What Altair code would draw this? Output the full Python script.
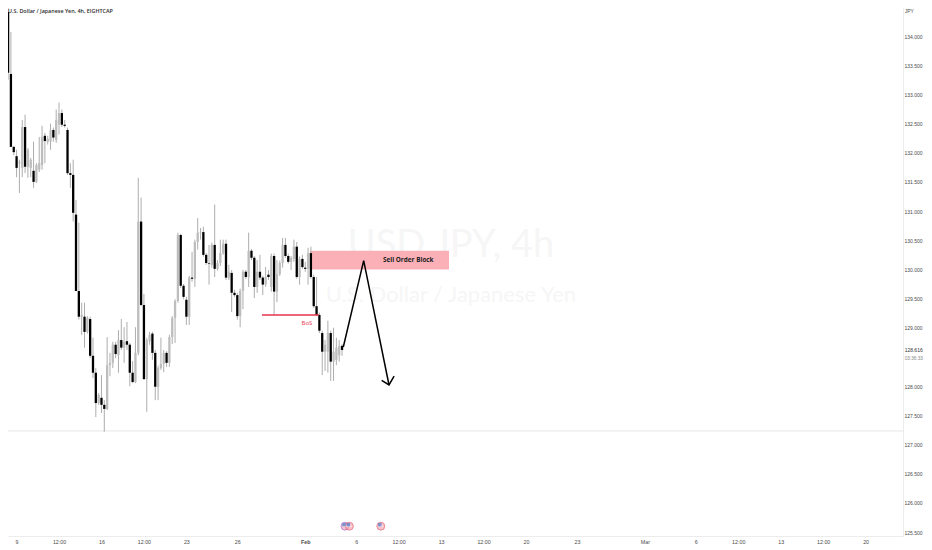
import json
import altair as alt
import pandas as pd

opens = [133.59,133.76,134.05,134.41,133.35,132.10,131.94,131.82,131.74,132.44,131.76,131.74,131.69,131.50,131.71,131.79,132.29,132.19,132.19,132.39,132.22,132.48,132.68,132.48,132.39,131.65,131.62,130.94,129.63,129.19,129.19,128.93,129.15,128.52,128.23,127.71,127.80,127.68,127.61,128.36,128.40,128.71,128.53,128.79,128.66,128.77,128.71,128.23,128.07,128.57,130.82,129.39,128.12,128.77,128.90,128.57,127.99,128.31,128.38,128.57,128.40,128.84,129.17,129.46,130.59,129.72,129.48,129.19,129.86,129.84,130.47,130.63,130.64,130.25,130.11,130.08,130.42,130.01,130.11,130.28,130.44,129.86,129.94,129.60,129.56,129.20,129.63,129.96,129.87,130.32,130.20,129.70,129.96,129.86,129.74,129.91,129.70,130.23,129.62,129.92,130.11,130.42,130.23,130.13,130.18,130.39,129.87,130.18,130.03,130.01,130.28,129.87,129.37,129.22,128.91,128.59,128.59,128.91,128.42,128.45,128.53,128.69]
highs = [134.10,134.36,134.57,134.62,134.07,132.11,132.05,131.88,132.56,132.65,132.08,131.91,132.19,131.82,132.27,132.46,132.34,132.29,132.50,132.43,132.74,132.86,132.74,132.56,132.43,131.82,131.88,131.19,130.80,129.43,129.43,129.20,129.19,128.83,128.31,127.88,128.19,127.76,128.84,128.57,128.76,128.76,128.96,129.15,129.01,129.10,128.74,128.43,129.01,131.57,131.23,129.58,128.83,128.93,128.93,128.62,128.35,128.83,128.62,128.60,128.88,129.20,129.49,130.63,130.61,129.75,129.53,129.89,130.30,130.51,130.88,130.71,130.73,130.28,130.42,130.46,131.11,130.16,130.51,130.51,130.51,130.08,129.99,129.65,129.60,129.67,129.99,129.99,130.63,130.35,130.23,130.16,130.25,129.89,130.04,129.99,130.27,130.27,130.16,130.15,130.54,130.54,130.27,130.23,130.51,130.47,130.22,130.25,130.13,130.37,130.39,129.91,129.87,129.26,128.95,128.79,129.12,128.95,129.00,128.83,128.79,128.72]
lows = [133.38,133.59,133.85,133.25,132.10,131.96,131.58,131.31,131.58,131.65,131.57,131.58,131.40,131.48,131.67,131.71,131.82,132.14,132.05,132.19,132.17,132.31,132.44,132.43,131.62,131.40,130.82,129.63,129.14,128.88,128.66,128.90,128.48,128.14,127.47,127.68,127.54,127.22,127.59,128.17,128.31,128.48,128.23,128.62,128.40,128.62,128.00,128.05,128.05,128.53,129.37,128.11,127.56,128.71,128.45,127.76,127.76,128.28,128.24,128.33,128.33,128.72,128.74,129.43,129.68,129.49,129.05,129.05,129.79,129.70,130.34,130.51,130.22,130.08,129.74,130.03,129.87,129.98,130.06,130.25,129.82,129.82,129.27,129.53,129.14,129.01,129.32,129.84,129.70,130.16,129.51,129.60,129.82,129.56,129.70,129.82,129.62,129.22,129.44,129.89,130.03,130.20,130.10,129.99,130.13,129.84,129.74,130.01,129.96,129.74,129.84,129.34,129.20,128.91,128.19,128.26,128.23,128.09,128.09,128.36,128.42,128.52]
closes = [133.93,134.14,134.41,133.37,132.10,132.01,131.74,131.84,132.44,131.76,132.05,131.88,131.50,131.79,131.82,132.27,132.20,132.24,132.39,132.26,132.56,132.68,132.48,132.46,131.65,131.62,130.97,129.63,129.19,129.22,128.93,129.17,128.52,128.23,127.71,127.85,127.68,127.61,128.36,128.40,128.71,128.55,128.79,128.66,128.76,128.71,128.23,128.07,128.57,130.82,129.39,128.12,128.79,128.88,128.57,127.99,128.31,128.38,128.57,128.40,128.84,129.17,129.46,130.59,129.72,129.53,129.19,129.86,129.84,130.47,130.63,130.64,130.25,130.11,130.10,130.42,130.01,130.11,130.28,130.44,129.86,129.96,129.60,129.56,129.20,129.63,129.96,129.87,130.32,130.20,129.70,129.96,129.86,129.74,129.87,129.87,130.23,129.62,129.92,130.11,130.42,130.23,130.13,130.20,130.39,129.87,130.18,130.04,130.01,130.28,129.87,129.37,129.22,128.95,128.59,128.71,128.91,128.42,128.59,128.66,128.69,128.62]

tick_bars = [6,21,36,51,66,84,108,126,141,156,171,186,204,228,246,261,276,291,306]
tick_text = ["9","12:00","16","12:00","23","26","Feb","6","12:00","13","12:00","20","23","Mar","6","12:00","13","12:00","20"]
price_ticks = [125.5,126,126.5,127,127.5,128,129,129.5,130,130.5,131,131.5,132,132.5,133,133.5,134]

last_price = 128.616
countdown = "03:36:33"
zone_bars, zone_prices = [109.7, 158.8], [130.0, 130.32]
bos_bars, bos_price = [92.7, 112.8], 129.22
arrow_bars, arrow_prices = [121.45, 128.65, 137.6], [128.67, 130.15, 128.02]
head_bars, head_prices = [135.0, 137.6, 139.4], [128.10, 128.02, 128.17]
event_bars = [122.05, 123.6, 134.7]
event_price = 125.6

xs = alt.Scale(domain=[2.968, 319.22], nice=False, zero=False)
ys = alt.Scale(domain=[125.432, 134.48], nice=False, zero=False)

df = pd.DataFrame({"i": range(len(opens)), "o": opens, "h": highs, "l": lows, "c": closes})
df["top"] = df[["o", "c"]].max(axis=1)
df["bot"] = df[["o", "c"]].min(axis=1)
df["up"] = df.c >= df.o

labels_map = json.dumps({str(b): t for b, t in zip(tick_bars, tick_text)})
feb_bar = tick_bars[tick_text.index("Feb")]

x_axis = alt.Axis(
    values=tick_bars, labelExpr=f"{labels_map}[datum.value]", grid=False, ticks=False,
    labelFontSize=5.3, labelColor="#4a4a4a", labelPadding=3, labelFont="Liberation Sans",
    domainColor="#ececec", labelOverlap=False,
    labelFontWeight={"expr": f"datum.value == {feb_bar} ? 'bold' : 'normal'"}, labelFlush=False)
y_axis = alt.Axis(
    orient="right", values=price_ticks, format=".3f", grid=False, ticks=False,
    labelFontSize=5, labelColor="#4a4a4a", labelPadding=1, labelFont="Liberation Sans",
    domainColor="#ececec", labelOverlap=False)


def X(f="i"):
    return alt.X(f"{f}:Q", scale=xs, axis=x_axis, title=None)


def Y(f="p"):
    return alt.Y(f"{f}:Q", scale=ys, axis=y_axis, title=None)


def label(text, bar, price, **mark):
    return alt.Chart(pd.DataFrame({"i": [bar], "p": [price], "t": [text]})).mark_text(**mark).encode(
        x=X(), y=Y(), text="t:N")


watermark1 = label("USD JPY, 4h", 159.5, 130.40, font="Lato", fontSize=38, color="#f6f6f6", align="center", baseline="middle")
watermark2 = label("U.S. Dollar / Japanese Yen", 159.5, 129.56, font="Lato", fontSize=22, color="#f6f6f6", align="center", baseline="middle")

session_line = alt.Chart(pd.DataFrame({"p": [127.232]})).mark_rule(color="#e6e6e6", strokeWidth=1).encode(y=Y())

zone = alt.Chart(pd.DataFrame({"a": [zone_bars[0]], "b": [zone_bars[1]], "p": [zone_prices[0]], "q": [zone_prices[1]]})).mark_rect(
    color="#fbb0b8").encode(x=X("a"), x2="b:Q", y=Y("p"), y2="q:Q")

wicks = alt.Chart(df).mark_rule(clip=True, strokeWidth=0.9, color="#a4a4a4").encode(x=X(), y=Y("l"), y2="h:Q")
bodies = alt.Chart(df).mark_rule(clip=True, strokeWidth=2.3).encode(
    x=X(), y=Y("bot"), y2="top:Q",
    color=alt.condition("datum.up", alt.value("#bdbdbd"), alt.value("#000000")),
)

bos = alt.Chart(pd.DataFrame({"a": [bos_bars[0]], "b": [bos_bars[1]], "p": [bos_price]})).mark_rule(
    color="#e8324e", strokeWidth=1.4).encode(x=X("a"), x2="b:Q", y=Y())
bos_text = label("BoS", 108.6, 129.09, font="Open Sans", fontSize=6, color="#e8324e", align="center", baseline="middle")

arrow = alt.Chart(pd.DataFrame({"i": arrow_bars, "p": arrow_prices, "n": range(3)})).mark_line(
    color="#000000", strokeWidth=1.5).encode(x=X(), y=Y(), order="n:Q")
head = alt.Chart(pd.DataFrame({"i": head_bars, "p": head_prices, "n": range(3)})).mark_line(
    color="#000000", strokeWidth=1.5).encode(x=X(), y=Y(), order="n:Q")
zone_text = label("Sell Order Block", 144.4, 130.16, font="Open Sans", fontSize=6.4, fontWeight="bold", color="#222222", align="center", baseline="middle")

events = pd.DataFrame({"i": event_bars, "p": [event_price] * 3, "ring": ["#a65cc4", "#e2566c", "#e2566c"]})
event_bg = alt.Chart(events).mark_point(shape="circle", filled=True, size=62, fill="#f8a9b3", strokeWidth=1).encode(
    x=X(), y=Y(), stroke=alt.Stroke("ring:N", scale=None))
event_stripe = alt.Chart(events).mark_point(shape="stroke", size=22, stroke="#ffffff", strokeWidth=1.2).encode(x=X(), y=Y())
event_blue = alt.Chart(events).mark_point(shape="square", filled=True, size=12, color="#4a7fd0", yOffset=-1.5, xOffset=-1).encode(x=X(), y=Y())

title = label("U.S. Dollar / Japanese Yen, 4h, EIGHTCAP", 3.0, 134.43, font="Open Sans", fontSize=5.4, fontWeight=600, color="#2a2a2a", align="left", baseline="middle")
unit = label("JPY", 319.8, 134.43, font="Liberation Sans", fontSize=5, color="#4a4a4a", align="left", baseline="middle")
last_lbl = label(f"{last_price:.3f}", 319.8, last_price, font="Liberation Sans", fontSize=5, color="#333333", align="left", baseline="middle")
count_lbl = label(countdown, 319.8, 128.47, font="Liberation Sans", fontSize=4.7, color="#8a8a8a", align="left", baseline="middle")

chart = alt.layer(
    watermark1, watermark2, session_line, zone, wicks, bodies, bos, bos_text, arrow, head, zone_text,
    event_bg, event_stripe, event_blue, title, unit, last_lbl, count_lbl,
).properties(
    width=895, height=528,
    padding={"left": 0, "top": 0, "right": 21, "bottom": 11},
    autosize=alt.AutoSizeParams(type="none"),
    background="#ffffff",
).configure_view(stroke=None)

chart.save("out.html", embed_options={"renderer": "svg", "actions": False})
